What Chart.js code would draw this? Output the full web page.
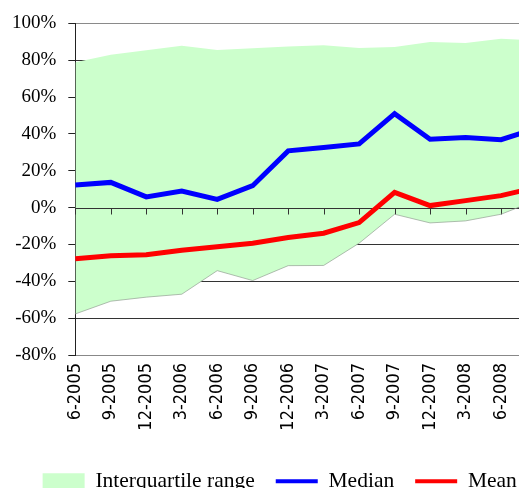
<!DOCTYPE html>
<html>
<head>
<meta charset="utf-8">
<script src="https://cdn.jsdelivr.net/npm/chart.js@4.4.0/dist/chart.umd.min.js"></script>
<style>
  html, body { margin: 0; padding: 0; background: #fff; overflow: hidden; }
  #wrap { width: 555px; height: 502px; }
</style>
</head>
<body>
<div id="wrap"><canvas id="chart" width="555" height="502"></canvas></div>
<script>
// Quarterly observations
const quarters = ['6-2005', '9-2005', '12-2005', '3-2006', '6-2006', '9-2006', '12-2006',
                  '3-2007', '6-2007', '9-2007', '12-2007', '3-2008', '6-2008', '9-2008'];
const median = [12.3, 13.7, 5.8, 9.0, 4.5, 11.9, 30.8, 32.6, 34.6, 51.0, 37.1, 38.0, 36.9, 43.0];
const mean = [-27.7, -26.1, -25.6, -23.1, -21.3, -19.3, -16.2, -13.9, -8.1, 8.3, 1.1, 3.8, 6.5, 11.0];
const upperQuartile = [78.9, 83.0, 85.4, 87.9, 85.6, 86.5, 87.4, 88.1, 86.6, 87.2, 89.9, 89.4, 91.7, 90.7];
const lowerQuartile = [-57.7, -50.8, -48.6, -47.0, -34.2, -39.6, -31.5, -31.4, -19.3, -3.6, -8.3, -7.2, -3.6, 4.0];

const yMin = -80, yMax = 100, yStep = 20;

const serif = "'Liberation Serif', 'Times New Roman', serif";

// zero line with small tick marks, drawn over the band but under the lines
const zeroAxis = {
    id: 'zeroAxis',
    beforeDatasetsDraw(chart) {
        const {ctx, chartArea, scales: {x, y}} = chart;
        const y0 = Math.round(y.getPixelForValue(0)) + 0.5;
        ctx.save();
        ctx.strokeStyle = '#333';
        ctx.lineWidth = 1;
        ctx.beginPath();
        ctx.moveTo(chartArea.left, y0);
        ctx.lineTo(chartArea.right, y0);
        quarters.forEach(function(q, i) {
            const px = Math.round(x.getPixelForValue(i)) + 0.5;
            ctx.moveTo(px, y0);
            ctx.lineTo(px, y0 + 6);
        });
        ctx.stroke();
        ctx.restore();
    }
};

// nudge the legend row a little to the right
const legendShift = {
    id: 'legendShift',
    afterLayout(chart) {
        if (chart.legend) {
            chart.legend.left += 11.5;
            chart.legend.right += 11.5;
        }
    }
};

const ctx = document.getElementById('chart').getContext('2d');
new Chart(ctx, {
    type: 'line',
    data: {
        labels: quarters,
        datasets: [
            {
                label: 'Lower quartile',
                data: lowerQuartile,
                borderColor: 'rgba(150,160,150,0.7)',
                borderWidth: 1,
                pointRadius: 0,
                fill: false,
                tension: 0,
                order: 3
            },
            {
                label: 'Interquartile range',
                data: upperQuartile,
                borderWidth: 0,
                borderColor: 'rgba(0,0,0,0)',
                backgroundColor: '#ccffcc',
                pointRadius: 0,
                fill: '-1',
                tension: 0,
                order: 2
            },
            {
                label: 'Median',
                data: median,
                borderColor: '#0000ff',
                backgroundColor: '#0000ff',
                borderWidth: 5,
                pointRadius: 0,
                fill: false,
                tension: 0,
                order: 1
            },
            {
                label: 'Mean',
                data: mean,
                borderColor: '#ff0000',
                backgroundColor: '#ff0000',
                borderWidth: 5,
                pointRadius: 0,
                fill: false,
                tension: 0,
                order: 0
            }
        ]
    },
    options: {
        responsive: false,
        animation: false,
        devicePixelRatio: 1,
        layout: {
            padding: { left: 0, top: 19, right: 18.5, bottom: 0 }
        },
        scales: {
            x: {
                offset: false,
                grid: { display: false, drawTicks: false },
                border: { display: true, color: '#888', width: 1 },
                ticks: {
                    autoSkip: false,
                    maxRotation: 90,
                    minRotation: 90,
                    padding: 8,
                    color: '#000',
                    font: { family: "'DejaVu Sans Condensed', 'DejaVu Sans', sans-serif", size: 18 }
                },
                afterFit: function(scale) {
                    scale.height = 94.5;
                    scale.paddingLeft = 0;
                    scale.paddingRight = 0;
                }
            },
            y: {
                min: yMin,
                max: yMax,
                ticks: {
                    stepSize: yStep,
                    padding: 12,
                    color: '#000',
                    font: { family: serif, size: 19 },
                    callback: function(v) { return v + '%'; }
                },
                grid: {
                    color: function(c) {
                        const v = c.tick ? c.tick.value : 0;
                        return (v === yMax || v === yMin) ? '#8a8a8a' : '#333';
                    },
                    tickColor: '#222',
                    tickLength: 7,
                    lineWidth: 1
                },
                border: { display: true, color: '#222', width: 1 }
            }
        },
        plugins: {
            filler: { drawTime: 'beforeDatasetsDraw' },
            tooltip: { enabled: false },
            legend: {
                position: 'bottom',
                labels: {
                    usePointStyle: true,
                    pointStyleWidth: 42,
                    boxHeight: 16,
                    padding: 21,
                    color: '#000',
                    font: { family: serif, size: 21.5 },
                    filter: function(item) { return item.datasetIndex !== 0; },
                    sort: function(a, b) { return a.datasetIndex - b.datasetIndex; },
                    generateLabels: function(chart) {
                        const items = Chart.defaults.plugins.legend.labels.generateLabels(chart);
                        items.forEach(function(item) {
                            if (item.datasetIndex === 1) {
                                item.pointStyle = 'rect';
                                item.fillStyle = '#ccffcc';
                                item.strokeStyle = '#ccffcc';
                                item.lineWidth = 0;
                            } else {
                                item.pointStyle = 'line';
                                item.lineWidth = 4;
                            }
                        });
                        return items;
                    }
                }
            }
        }
    },
    plugins: [zeroAxis, legendShift]
});
</script>
</body>
</html>
